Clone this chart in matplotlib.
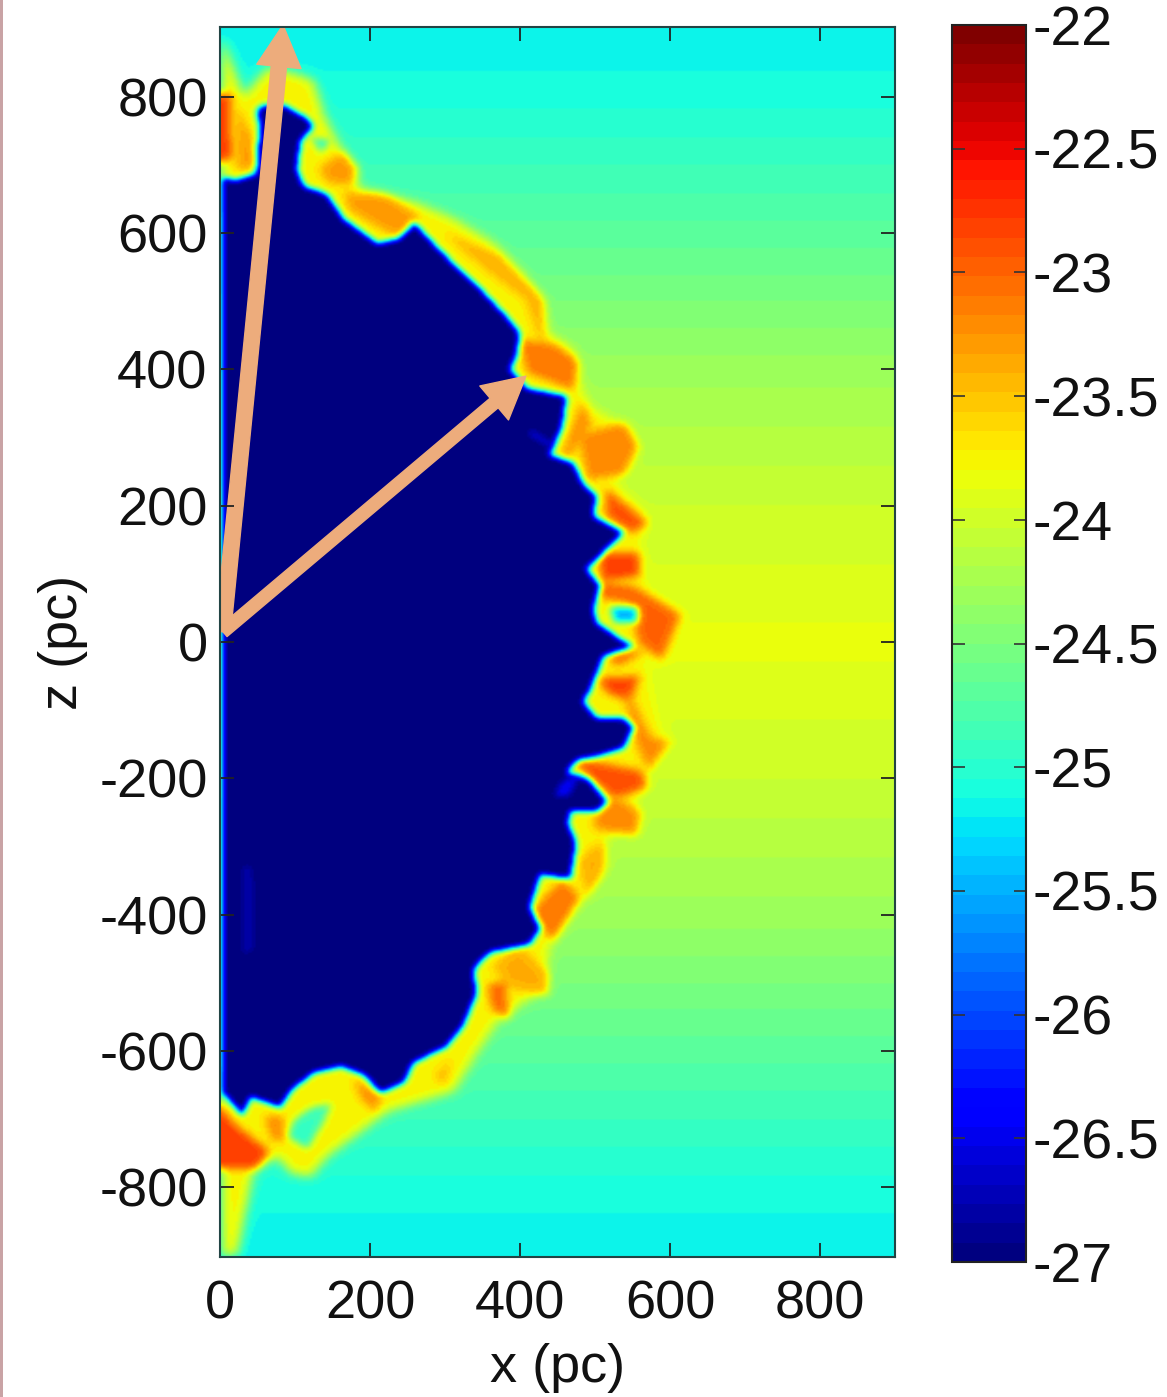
import numpy as np
import matplotlib
matplotlib.use('Agg')
import matplotlib.pyplot as plt
from matplotlib.path import Path
from matplotlib.patches import FancyArrowPatch, Rectangle

plt.rcParams['font.family'] = ['Liberation Sans', 'DejaVu Sans']
plt.rcParams['axes.unicode_minus'] = False

# background level against height
bg_z = [-900, -800, -600, -400, -200, 0, 200, 400, 600, 800, 900]
bg_val = [-25.2, -25.08, -24.7, -24.3, -24.03, -23.85, -24.03, -24.3, -24.7, -25.08, -25.2]

# edge of the cavity (x, z in pc)
cavity = [(0, 682), (22, 679), (47, 688), (51, 748), (49, 784), (58, 789), (84, 789), (116, 769),
          (124, 757), (107, 736), (102, 694), (111, 670), (142, 658), (164, 622), (209, 586),
          (236, 592), (258, 616), (284, 586), (316, 550), (351, 514), (382, 478), (400, 454),
          (396, 424), (387, 400), (409, 373), (462, 361), (456, 316), (440, 275), (471, 263),
          (484, 233), (502, 215), (498, 185), (538, 161), (511, 131), (489, 107), (507, 83),
          (498, 47), (502, 29), (533, 5), (551, -6), (511, -21), (493, -72), (484, -87),
          (502, -111), (538, -111), (551, -126), (538, -156), (502, -168), (476, -174),
          (462, -192), (490, -200), (516, -234), (502, -249), (467, -249), (464, -267),
          (475, -294), (467, -348), (427, -342), (413, -390), (427, -420), (413, -444),
          (360, -456), (338, -480), (342, -516), (324, -564), (302, -594), (258, -618),
          (244, -648), (213, -663), (191, -636), (160, -624), (124, -633), (93, -660),
          (80, -684), (40, -669), (29, -696), (0, -660)]

# outer edge of the swept up shell
shell = [(0, 892), (11, 862), (31, 802), (62, 844), (89, 838), (124, 826), (138, 772), (173, 700),
         (187, 664), (258, 646), (311, 622), (364, 586), (400, 544), (427, 502), (436, 454),
         (471, 430), (476, 388), (493, 346), (547, 310), (547, 262), (524, 238), (569, 185),
         (556, 125), (569, 77), (604, 41), (596, 12), (564, -18), (569, -54), (591, -138),
         (569, -180), (556, -222), (551, -270), (511, -288), (513, -324), (480, -378),
         (440, -438), (431, -510), (373, -552), (347, -594), (311, -660), (222, -690),
         (142, -756), (120, -786), (93, -780), (76, -756), (44, -774), (22, -900), (0, -903)]

# gaps inside the shell
gaps = [[(89, -726), (116, -744), (138, -702), (147, -678), (120, -684), (98, -702)],
        [(120, 742), (147, 736), (133, 718)]]

# dense clumps in the shell
clump_val = [-22.8, -23.3, -23.3, -23.3, -23.4, -23.1, -23.2, -23.2, -22.9, -22.8, -23.0, -23.0,
             -22.8, -23.2, -22.9, -23.2, -23.4, -23.1, -23.4, -23.0, -23.4, -23.2, -23.2, -22.8]
clumps = [[(0, 793), (11, 793), (13, 724), (0, 718)],
          [(24, 772), (40, 736), (44, 706), (24, 703)],
          [(138, 694), (160, 712), (176, 694), (169, 676), (147, 679)],
          [(178, 652), (218, 649), (249, 628), (240, 598), (209, 616), (182, 634)],
          [(320, 580), (373, 556), (418, 508), (418, 448), (400, 508), (364, 538)],
          [(409, 436), (444, 430), (467, 412), (462, 382), (418, 400)],
          [(458, 275), (480, 340), (489, 316), (471, 286)],
          [(489, 298), (533, 310), (547, 286), (533, 256), (498, 250)],
          [(520, 215), (560, 179), (547, 167), (520, 185)],
          [(511, 125), (551, 125), (551, 101), (516, 95)],
          [(516, 77), (551, 71), (596, 41), (578, -7), (556, 11), (547, 53), (516, 59)],
          [(520, -18), (560, -15), (530, -32)],
          [(511, -57), (551, -54), (542, -81), (520, -72)],
          [(547, -84), (573, -138), (591, -141), (569, -174), (551, -126)],
          [(480, -177), (551, -192), (556, -210), (524, -222), (498, -198)],
          [(507, -252), (524, -234), (551, -252), (547, -276), (507, -270)],
          [(484, -324), (507, -300), (507, -336), (489, -366)],
          [(422, -396), (453, -360), (471, -378), (444, -426)],
          [(373, -480), (400, -456), (427, -486), (427, -510), (396, -504)],
          [(360, -510), (378, -504), (380, -546), (364, -534)],
          [(289, -636), (304, -618), (298, -648)],
          [(182, -648), (209, -666), (204, -684), (191, -672)],
          [(62, -702), (80, -702), (80, -729), (69, -726)],
          [(0, -684), (18, -714), (53, -744), (40, -762), (0, -762)]]

# faint pockets inside the cavity
pocket_val = [-25.5, -26.5, -26.75, -26.4]
pockets = [[(520, 50), (556, 50), (556, 28), (525, 28)],
           [(415, 312), (445, 290), (440, 285), (410, 305)],
           [(28, -330), (42, -330), (45, -450), (30, -460)],
           [(455, -205), (480, -195), (465, -225), (445, -228)]]

# arrows, tail and tip
arrow1_x = [4, 84]
arrow1_z = [15, 905]
arrow2_x = [4, 408]
arrow2_z = [15, 390]

xticks = [0, 200, 400, 600, 800]
zticks = [-800, -600, -400, -200, 0, 200, 400, 600, 800]
cticks = [-27, -26.5, -26, -25.5, -25, -24.5, -24, -23.5, -23, -22.5, -22]
clabels = ['-27', '-26.5', '-26', '-25.5', '-25', '-24.5', '-24', '-23.5', '-23', '-22.5', '-22']

xs = np.arange(0, 902.5, 2.5)
zs = np.arange(-905, 907.5, 2.5)
xx, zz = np.meshgrid(xs, zs)
pts = np.column_stack([xx.ravel(), zz.ravel()])


def mask_of(poly, grow=1.0):
    poly = np.array(poly, dtype=float)
    c = poly.mean(axis=0)
    poly = c + (poly - c) * grow
    return Path(poly).contains_points(pts).reshape(xx.shape).astype(float)


def soften(a, sigma):
    # gaussian blur in grid cells, both directions
    n = int(sigma * 3)
    k = np.exp(-0.5 * (np.arange(-n, n + 1) / sigma) ** 2)
    k = k / k.sum()
    a = np.pad(a, n, mode='edge')
    a = np.apply_along_axis(lambda r: np.convolve(r, k, mode='same'), 1, a)
    a = np.apply_along_axis(lambda r: np.convolve(r, k, mode='same'), 0, a)
    return a[n:-n, n:-n]


background = np.interp(zz, bg_z, bg_val)
field = background.copy()

m = soften(mask_of(shell), 3.0)
field = field + (-23.75 - field) * m
for gap in gaps:
    m = soften(mask_of(gap), 2.0)
    field = field + (background - field) * m
for poly, val in zip(clumps, clump_val):
    m = soften(mask_of(poly, 1.4), 2.5)
    field = field + (val - field) * m
m = soften(mask_of(cavity), 1.8)
field = field + (-27 - field) * m
for poly, val in zip(pockets, pocket_val):
    m = soften(mask_of(poly), 2.0)
    field = field + (val - field) * m

fig = plt.figure(figsize=(11.67, 13.97), dpi=100)
ax = fig.add_axes([220 / 1167, 140 / 1397, 675 / 1167, 1230 / 1397])
cmap = plt.get_cmap('jet', 64)
im = ax.imshow(field, origin='lower', extent=[xs[0], xs[-1], zs[0], zs[-1]], aspect='auto',
               cmap=cmap, vmin=-27, vmax=-22, interpolation='bilinear')
ax.set_xlim(0, 900)
ax.set_ylim(-902, 902)
ax.set_xticks(xticks)
ax.set_yticks(zticks)
ax.tick_params(direction='in', length=10, width=1.3, top=True, right=True, labelsize=39,
               color='#222222', labelcolor='#111111')
ax.tick_params(axis='x', pad=16)
ax.tick_params(axis='y', pad=9)
for s in ax.spines.values():
    s.set_linewidth(1.5)
    s.set_color('#224444')
ax.set_xlabel('x (pc)', fontsize=39, color='#111111', labelpad=10)
ax.set_ylabel('z (pc)', fontsize=39, color='#111111', labelpad=8)

for ax_x, ax_z, hw, tw in [(arrow1_x, arrow1_z, 32, 11), (arrow2_x, arrow2_z, 32, 9)]:
    ax.add_patch(FancyArrowPatch((ax_x[0], ax_z[0]), (ax_x[1], ax_z[1]), color='#EDAC7C', lw=1,
                                 shrinkA=0, shrinkB=0, clip_on=True,
                                 arrowstyle=f'simple,head_length=30,head_width={hw},tail_width={tw}'))

cax = fig.add_axes([952 / 1167, 135 / 1397, 74 / 1167, 1237 / 1397])
cb = fig.colorbar(im, cax=cax, ticks=cticks)
cb.ax.set_yticklabels(clabels)
cax.tick_params(direction='in', length=9, width=1.2, left=True, right=True, labelsize=40, pad=5,
                color='#333333', labelcolor='#111111')
cb.outline.set_linewidth(1.5)
cb.outline.set_edgecolor('#222222')

# strip along the left edge of the scan
fig.add_artist(Rectangle((0, 0), 3 / 1167, 1, transform=fig.transFigure, color='#C9A3A5', lw=0))

fig.savefig('out.png', dpi=100)
